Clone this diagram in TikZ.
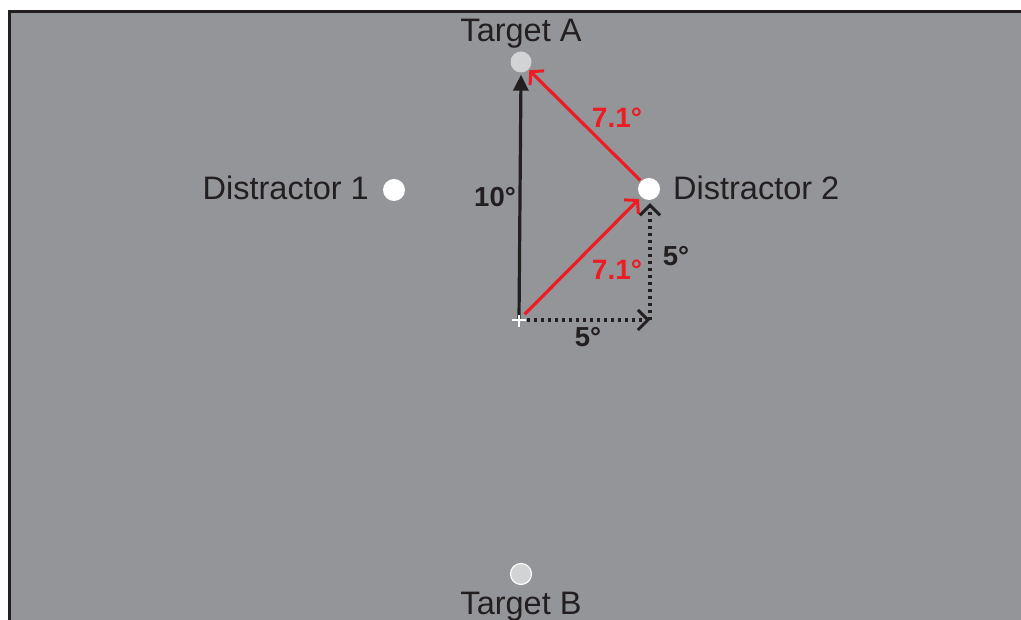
\documentclass[tikz,border=0pt]{standalone}
\usepackage{fontspec}
\setmainfont{Liberation Sans}
\usetikzlibrary{arrows.meta}
\definecolor{bggray}{RGB}{147,149,152}
\definecolor{ink}{RGB}{35,31,32}
\definecolor{redline}{RGB}{237,28,36}
\definecolor{tgray}{RGB}{209,211,212}
\begin{document}
\begin{tikzpicture}[x=1pt,y=1pt,
  dot/.style={circle,inner sep=0pt,minimum size=22pt,fill=white},
  tdot/.style={circle,inner sep=0pt,minimum size=21pt,fill=tgray},
  lbl/.style={text=ink,font=\fontsize{32.5}{38}\selectfont,inner sep=0pt},
  blbl/.style={text=ink,font=\fontsize{27.5}{32}\selectfont\bfseries,inner sep=0pt},
  rlbl/.style={text=redline,font=\fontsize{28}{32}\selectfont\bfseries,inner sep=0pt},
  blackarrow/.style={ink,line width=3.2pt,-{Triangle[length=16pt,width=15pt]}},
  redarrow/.style={redline,line width=3.2pt,-{Straight Barb[length=9pt,width=20pt,line width=3pt]}},
  dotarrow/.style={ink,line width=3.2pt,dash pattern=on 3pt off 4pt,-{Straight Barb[length=10pt,width=20pt,line width=3pt]}}
]
\useasboundingbox (0,0) rectangle (1021,620);
\begin{scope}
\clip (0,0) rectangle (1021,620);
\draw[fill=bggray,draw=ink,line width=3pt] (9.5,608.5) rectangle (1040,-20);
\end{scope}
% nodes
\node[tdot] (TA) at (521,558) {};
\node[tdot,draw=white!90!tgray,line width=1.2pt] (TB) at (521,46) {};
\node[dot] (D1) at (394,430) {};
\node[dot] (D2) at (649,431) {};
\coordinate (fix) at (519,300);
\coordinate (corner) at (650,300);
% labels
\node[lbl] (TAl) at (521,586) {Target A};
\node[lbl] (TBl) at (521,13) {Target B};
\node[lbl,anchor=east] (D1l) at (369,432) {Distractor 1};
\node[lbl,anchor=west] (D2l) at (673,432) {Distractor 2};
\node[blbl] (l10) at (495,423) {10°};
\node[rlbl] (r1) at (617,502) {7.1°};
\node[rlbl] (r2) at (617,350) {7.1°};
\node[blbl] (v5) at (676,364) {5°};
\node[blbl] (h5) at (588,283) {5°};
% arrows
\draw[blackarrow] (fix) -- ([yshift=-2pt]TA.south);
\draw[redarrow,shorten <=8pt,shorten >=3pt] (fix) -- (D2);
\draw[redarrow,shorten <=1pt,shorten >=1pt] (D2) -- (TA);
\draw[dotarrow,shorten <=8pt] (fix) -- (corner);
\draw[dotarrow] (corner) -- ([yshift=-3pt]D2.south -| corner);
% fixation cross
\draw[white,line width=2pt] ([xshift=-7pt]fix) -- ([xshift=7pt]fix);
\draw[white,line width=2pt] ([yshift=-7pt]fix) -- ([yshift=5pt]fix);
\end{tikzpicture}
\end{document}
